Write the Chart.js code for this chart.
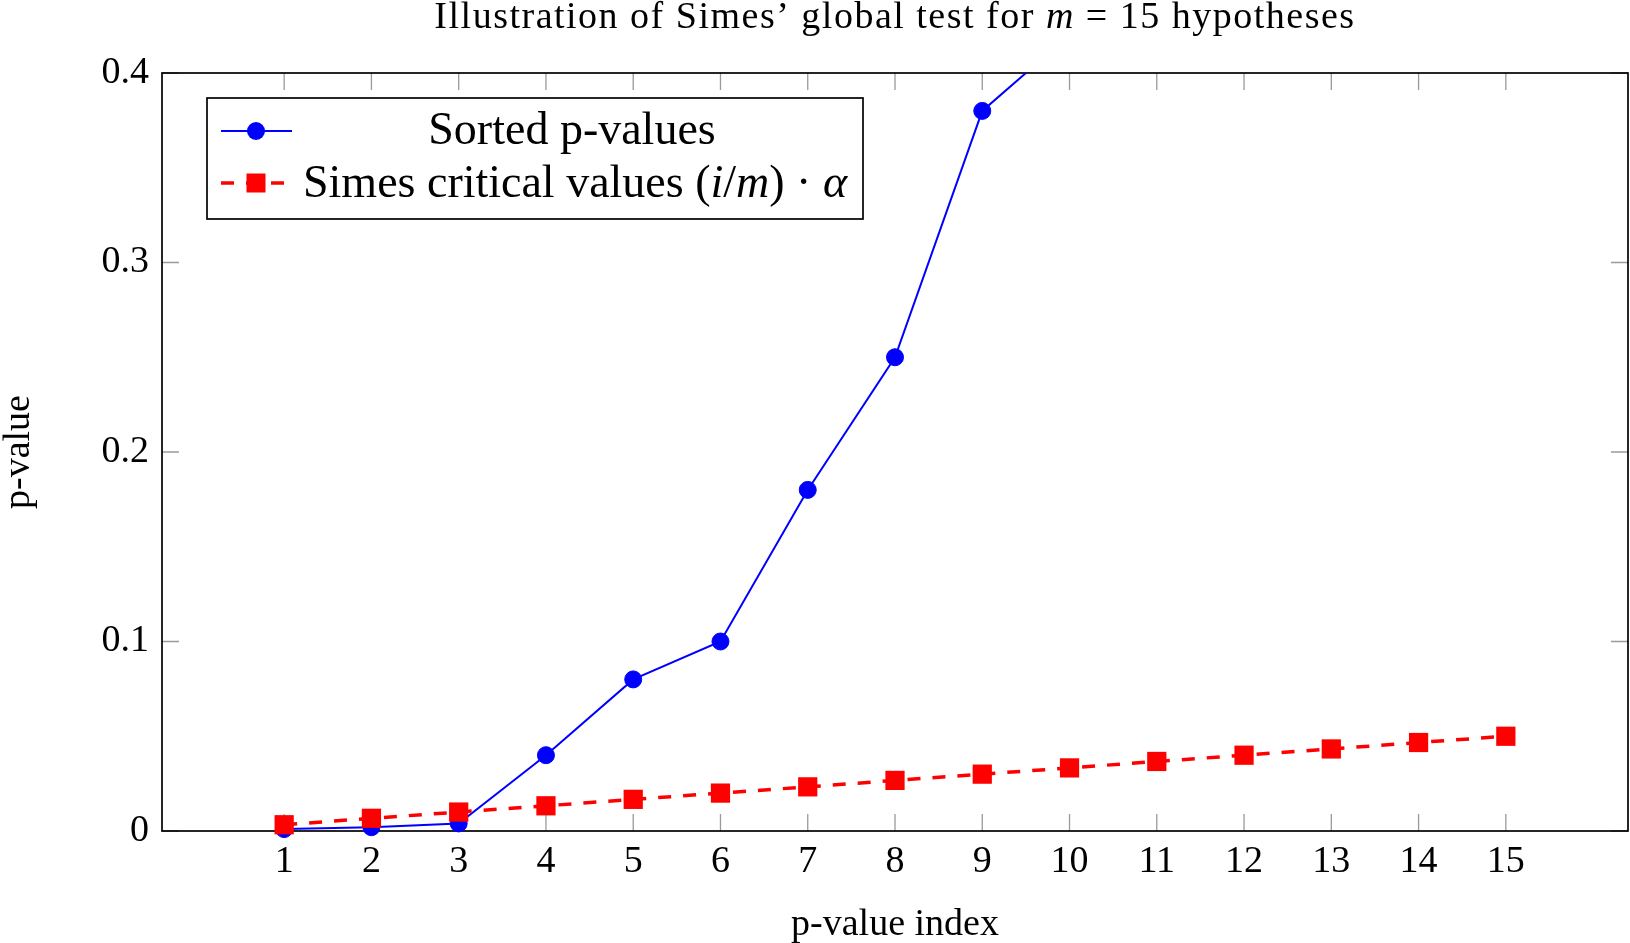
<!DOCTYPE html>
<html>
<head>
<meta charset="utf-8">
<script src="https://cdn.jsdelivr.net/npm/chart.js@4.4.1/dist/chart.umd.min.js"></script>
<style>
  html, body { margin: 0; padding: 0; background: #fff; }
  #wrap { width: 1630px; height: 943px; }
</style>
</head>
<body>
<div id="wrap"><canvas id="chart" width="1630" height="943"></canvas></div>
<script>
// ─── data ───────────────────────────────────────────────────────────────────
const indices    = [1, 2, 3, 4, 5, 6, 7, 8, 9, 10, 11, 12, 13, 14, 15];
const sortedP    = [0.001, 0.002, 0.004, 0.04, 0.08, 0.10, 0.18, 0.25, 0.38, 0.42, 0.50, 0.60, 0.70, 0.80, 0.90];
const simesCrit  = [0.0033, 0.0067, 0.0100, 0.0133, 0.0167, 0.0200, 0.0233, 0.0267,
                    0.0300, 0.0333, 0.0367, 0.0400, 0.0433, 0.0467, 0.0500];
const xTicks     = [1, 2, 3, 4, 5, 6, 7, 8, 9, 10, 11, 12, 13, 14, 15];
const yTicks     = [0, 0.1, 0.2, 0.3, 0.4];

// text pieces, { t: text, it: italic }
const titleParts   = [{ t: 'Illustration of Simes\u2019 global test for ' }, { t: 'm', it: true }, { t: ' = 15 hypotheses' }];
const legendSorted = [{ t: 'Sorted p-values' }];
const legendSimes  = [{ t: 'Simes critical values (' }, { t: 'i', it: true }, { t: '/' }, { t: 'm', it: true },
                      { t: ') \u00b7 ' }, { t: '\u03b1', it: true }];

// ─── style ──────────────────────────────────────────────────────────────────
const FAMILY = '"Liberation Serif", "DejaVu Serif", serif';
const SIZE   = 38;   // title, ticks, axis titles
const LSIZE  = 46;   // legend text is set larger
const FONT   = { family: FAMILY, size: SIZE };
const BLUE   = '#0000ff';
const RED    = '#ff0000';
const DASH   = [13, 12];

/** draw a run of upright / italic pieces on one baseline */
function drawRich(ctx, parts, x, y, align, size, spacing = 0) {
  const fontOf = p => (p.it ? 'italic ' : '') + size + 'px ' + FAMILY;
  ctx.letterSpacing = spacing + 'px';
  let w = 0;
  parts.forEach(p => { ctx.font = fontOf(p); w += ctx.measureText(p.t).width; });
  let cx = align === 'center' ? x - w / 2 : x;
  ctx.textAlign = 'left';
  ctx.textBaseline = 'alphabetic';
  ctx.fillStyle = '#000';
  parts.forEach(p => { ctx.font = fontOf(p); ctx.fillText(p.t, cx, y); cx += ctx.measureText(p.t).width; });
  ctx.letterSpacing = '0px';
}

// pgfplots-like box: inward ticks on all four sides + black frame
const frame = {
  id: 'frame',
  beforeDatasetsDraw(chart) {
    const { ctx, chartArea: a, scales: { x, y } } = chart;
    const len = 17;
    ctx.save();
    ctx.strokeStyle = '#9a9a9a';
    ctx.lineWidth = 1.3;
    ctx.beginPath();
    xTicks.forEach(v => {
      const px = x.getPixelForValue(v);
      ctx.moveTo(px, a.bottom); ctx.lineTo(px, a.bottom - len);
      ctx.moveTo(px, a.top);    ctx.lineTo(px, a.top + len);
    });
    yTicks.forEach(v => {
      const py = y.getPixelForValue(v);
      ctx.moveTo(a.left, py);  ctx.lineTo(a.left + len, py);
      ctx.moveTo(a.right, py); ctx.lineTo(a.right - len, py);
    });
    ctx.stroke();
    ctx.strokeStyle = '#000';
    ctx.lineWidth = 1.7;
    ctx.strokeRect(a.left, a.top, a.right - a.left, a.bottom - a.top);
    ctx.restore();
  },
};

// title + legend box in the upper left of the plot
const annotations = {
  id: 'annotations',
  afterDatasetsDraw(chart) {
    const { ctx, chartArea: a } = chart;
    ctx.save();
    drawRich(ctx, titleParts, (a.left + a.right) / 2, 28, 'center', SIZE, 1.5);

    const bx = 207, by = 98, bw = 656, bh = 121;
    ctx.fillStyle = '#fff';
    ctx.fillRect(bx, by, bw, bh);
    ctx.strokeStyle = '#000';
    ctx.lineWidth = 1.7;
    ctx.strokeRect(bx, by, bw, bh);

    const r1 = 131, r2 = 183, x0 = 221, x1 = 292, mx = 256;
    // blue sample
    ctx.strokeStyle = BLUE; ctx.lineWidth = 2;
    ctx.beginPath(); ctx.moveTo(x0, r1); ctx.lineTo(x1, r1); ctx.stroke();
    ctx.fillStyle = BLUE;
    ctx.beginPath(); ctx.arc(mx, r1, 9, 0, Math.PI * 2); ctx.fill();
    // red sample
    ctx.strokeStyle = RED; ctx.lineWidth = 3.5; ctx.setLineDash(DASH);
    ctx.beginPath(); ctx.moveTo(x0, r2); ctx.lineTo(x1, r2); ctx.stroke();
    ctx.setLineDash([]);
    ctx.fillStyle = RED;
    ctx.fillRect(mx - 9.5, r2 - 9.5, 19, 19);

    drawRich(ctx, legendSorted, 572, 144, 'center', LSIZE);
    drawRich(ctx, legendSimes, 303, 197, 'left', LSIZE);
    ctx.restore();
  },
};

new Chart(document.getElementById('chart'), {
  type: 'line',
  data: {
    datasets: [
      {
        label: 'Sorted p-values',
        data: indices.map((v, i) => ({ x: v, y: sortedP[i] })),
        borderColor: BLUE,
        backgroundColor: BLUE,
        borderWidth: 2,
        pointRadius: 8.5,
        pointBorderWidth: 1,
        pointBackgroundColor: BLUE,
        pointBorderColor: BLUE,
        tension: 0,
        order: 1,
        clip: { left: 20, right: 20, top: 0, bottom: 20 },
      },
      {
        label: 'Simes critical values',
        data: indices.map((v, i) => ({ x: v, y: simesCrit[i] })),
        borderColor: RED,
        backgroundColor: RED,
        borderWidth: 3.5,
        borderDash: DASH,
        pointStyle: 'rect',
        pointRadius: 13.6,
        pointBorderWidth: 0,
        pointBackgroundColor: RED,
        tension: 0,
        order: 0,
        clip: false,
      },
    ],
  },
  options: {
    responsive: false,
    animation: false,
    layout: { autoPadding: false, padding: { top: 73, right: 2, left: 0, bottom: 0 } },
    plugins: { legend: { display: false }, title: { display: false }, tooltip: { enabled: false } },
    scales: {
      x: {
        type: 'linear',
        min: -0.4,
        max: 16.4,
        afterBuildTicks: s => { s.ticks = xTicks.map(v => ({ value: v })); },
        afterFit: s => { s.height = 112; s.paddingLeft = 0; s.paddingRight = 0; },
        ticks: { color: '#000', font: FONT, padding: 8, maxRotation: 0, autoSkip: false, callback: v => String(v) },
        grid: { display: false, drawTicks: false },
        border: { display: false },
        title: { display: true, text: 'p-value index', color: '#000', font: { ...FONT, lineHeight: 0.95 }, padding: { top: 0, bottom: 0 } },
      },
      y: {
        type: 'linear',
        min: 0,
        max: 0.4,
        afterBuildTicks: s => { s.ticks = yTicks.map(v => ({ value: v })); },
        afterFit: s => { s.width = 162; s.paddingTop = 0; s.paddingBottom = 0; },
        ticks: { color: '#000', font: FONT, padding: 13, callback: v => (v === 0 ? '0' : v.toFixed(1)) },
        grid: { display: false, drawTicks: false },
        border: { display: false },
        title: { display: true, text: 'p-value', color: '#000', font: { ...FONT, lineHeight: 1 }, padding: { top: 0, bottom: 0 } },
      },
    },
  },
  plugins: [frame, annotations],
});
</script>
</body>
</html>
